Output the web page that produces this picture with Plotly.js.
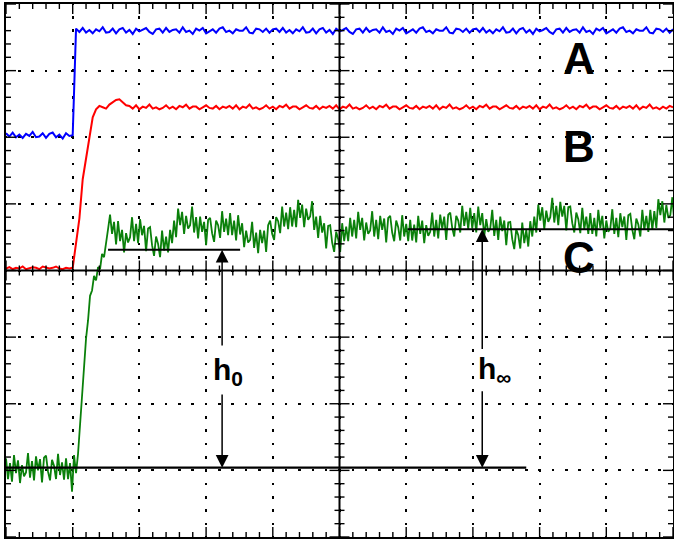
<!DOCTYPE html>
<html>
<head>
<meta charset="utf-8">
<script src="https://cdn.plot.ly/plotly-3.0.1.min.js"></script>
<style>
html,body{margin:0;padding:0;background:#fff;}
#chart{width:674px;height:542px;}
</style>
</head>
<body>
<div id="chart"></div>
<script>
// ---- data (screen divisions: x 0..10, y 0..8) ----
const stepAB = 0.05;   // sample interval of traces A and B (div)
const stepC = 0.03;    // sample interval of trace C (div)

const blueY = [
6.06,6.01,6.07,6.00,6.04,5.99,6.05,6.02,6.08,6.00,
6.01,6.06,5.99,6.05,6.07,6.00,6.04,5.98,6.06,6.02,
6.03,
7.63,7.58,7.64,7.57,7.61,7.56,7.62,7.59,7.65,7.57,
7.58,7.63,7.56,7.62,7.64,7.57,7.61,7.55,7.63,7.59,
7.61,7.64,7.58,7.55,7.62,7.63,7.57,7.64,7.58,7.61,
7.62,7.57,7.65,7.58,7.60,7.55,7.63,7.60,7.64,7.56,
7.59,7.62,7.57,7.63,7.65,7.58,7.60,7.56,7.62,7.60,
7.60,7.65,7.57,7.56,7.63,7.62,7.58,7.63,7.57,7.62,
7.63,7.58,7.64,7.57,7.61,7.56,7.62,7.59,7.65,7.57,
7.58,7.63,7.56,7.62,7.64,7.57,7.61,7.55,7.63,7.59,
7.61,7.64,7.58,7.55,7.62,7.63,7.57,7.64,7.58,7.61,
7.62,7.57,7.65,7.58,7.60,7.55,7.63,7.60,7.64,7.56,
7.59,7.62,7.57,7.63,7.65,7.58,7.60,7.56,7.62,7.60,
7.60,7.65,7.57,7.56,7.63,7.62,7.58,7.63,7.57,7.62,
7.63,7.58,7.64,7.57,7.61,7.56,7.62,7.59,7.65,7.57,
7.58,7.63,7.56,7.62,7.64,7.57,7.61,7.55,7.63,7.59,
7.61,7.64,7.58,7.55,7.62,7.63,7.57,7.64,7.58,7.61,
7.62,7.57,7.65,7.58,7.60,7.55,7.63,7.60,7.64,7.56,
7.59,7.62,7.57,7.63,7.65,7.58,7.60,7.56,7.62,7.60,
7.60,7.65,7.57,7.56,7.63,7.62,7.58,7.63,7.57,7.62
];

const redY = [
4.03,4.05,4.02,4.04,4.03,4.06,4.02,4.03,4.05,4.04,
4.02,4.06,4.05,4.03,4.04,4.06,4.03,4.02,4.04,4.03,
4.04,4.40,4.78,5.37,5.68,6.00,6.30,6.42,6.47,6.45,
6.43,6.49,6.53,6.56,6.57,6.53,6.48,
6.47,6.43,6.48,6.42,6.46,6.44,6.49,6.43,6.45,6.42,
6.44,6.48,6.43,6.46,6.42,6.47,6.45,6.49,6.43,6.46,
6.46,6.42,6.45,6.48,6.44,6.43,6.47,6.42,6.46,6.44,
6.47,6.43,6.48,6.42,6.46,6.44,6.49,6.43,6.45,6.42,
6.44,6.48,6.43,6.46,6.42,6.47,6.45,6.49,6.43,6.46,
6.46,6.42,6.45,6.48,6.44,6.43,6.47,6.42,6.46,6.44,
6.47,6.43,6.48,6.42,6.46,6.44,6.49,6.43,6.45,6.42,
6.44,6.48,6.43,6.46,6.42,6.47,6.45,6.49,6.43,6.46,
6.46,6.42,6.45,6.48,6.44,6.43,6.47,6.42,6.46,6.44,
6.47,6.43,6.48,6.42,6.46,6.44,6.49,6.43,6.45,6.42,
6.44,6.48,6.43,6.46,6.42,6.47,6.45,6.49,6.43,6.46,
6.46,6.42,6.45,6.48,6.44,6.43,6.47,6.42,6.46,6.44,
6.47,6.43,6.48,6.42,6.46,6.44,6.49,6.43,6.45,6.42,
6.44,6.48,6.43,6.46,6.42,6.47,6.45,6.49,6.43,6.46,
6.46,6.42,6.45,6.48,6.44,6.43,6.47,6.42,6.46,6.44,
6.47,6.43,6.48,6.42,6.46,6.44,6.49,6.43,6.45,6.42,
6.46,6.43,6.47,6.45
];

const greenY = [
1.18,0.87,1.11,0.83,1.23,0.96,1.15,0.81,1.08,0.91,
0.97,1.26,0.89,1.14,0.85,1.21,1.00,1.17,0.82,1.19,
1.22,0.98,0.85,1.16,1.07,0.87,1.25,0.93,1.12,0.86,
1.18,0.87,1.11,0.68,1.23,0.96,
1.25,1.70,2.10,2.45,2.98,3.25,3.62,3.70,3.92,3.85,4.05,4.02,4.25,4.20,4.45,4.62,
4.84,4.55,4.73,4.39,4.74,4.44,4.61,4.27,4.56,4.42,
4.50,4.80,4.44,4.70,4.41,4.77,4.53,4.67,4.29,4.63,
4.65,4.38,4.22,4.51,4.40,4.20,4.60,4.30,4.51,4.27,
4.61,4.41,4.75,4.50,4.93,4.68,4.88,4.55,4.82,4.63,
4.68,4.96,4.57,4.80,4.48,4.81,4.58,4.73,4.38,4.76,
4.79,4.56,4.43,4.75,4.68,4.49,4.89,4.58,4.78,4.53,
4.86,4.53,4.75,4.45,4.83,4.54,4.71,4.35,4.60,4.42,
4.46,4.73,4.34,4.57,4.26,4.61,4.41,4.60,4.28,4.68,
4.75,4.55,4.46,4.80,4.74,4.56,4.96,4.66,4.87,4.62,
4.95,4.66,4.91,4.65,5.06,4.79,4.99,4.65,4.93,4.76,
4.81,5.04,4.61,4.81,4.49,4.82,4.57,4.71,4.33,4.67,
4.68,4.42,4.28,4.58,4.47,4.28,4.71,4.44,4.66,4.44,
4.79,4.51,4.76,4.48,4.88,4.61,4.79,4.45,4.72,4.55,
4.60,4.89,4.51,4.76,4.47,4.82,4.61,4.78,4.42,4.79,
4.82,4.57,4.44,4.75,4.65,4.45,4.83,4.51,4.70,4.44,
4.76,4.45,4.69,4.42,4.82,4.55,4.75,4.41,4.68,4.52,
4.58,4.87,4.51,4.76,4.48,4.84,4.63,4.81,4.46,4.84,
4.87,4.64,4.51,4.82,4.75,4.57,4.97,4.67,4.88,4.62,
4.94,4.63,4.86,4.57,4.96,4.68,4.86,4.51,4.77,4.58,
4.63,4.91,4.52,4.76,4.46,4.81,4.59,4.75,4.38,4.72,
4.73,4.47,4.32,4.62,4.53,4.33,4.72,4.41,4.61,4.36,
4.74,4.51,4.81,4.57,4.99,4.75,4.95,4.62,4.90,4.73,
4.80,5.09,4.72,4.97,4.68,5.03,4.81,4.97,4.60,4.95,
4.96,4.71,4.57,4.87,4.77,4.56,4.94,4.62,4.81,4.55,
4.86,4.55,4.79,4.51,4.91,4.64,4.82,4.48,4.75,4.58,
4.63,4.92,4.55,4.79,4.50,4.86,4.65,4.81,4.46,4.83,
4.85,4.61,4.47,4.78,4.69,4.51,4.91,4.61,4.82,4.58,
4.91,4.61,4.89,4.64,5.07,4.83,5.04,4.72,4.98,4.79,
4.83,5.10,4.72
];

// reference levels (horizontal black lines)
const baseLineX = [0, 7.80];
const baseLineY = [1.04, 1.04];
const h0LineX = [1.53, 3.51];
const h0LineY = [4.31, 4.31];
const hInfLineX = [6.02, 10];
const hInfLineY = [4.62, 4.62];

// text labels
const curveLabels = ['A', 'B', 'C'];
const curveLabelX = [8.59, 8.59, 8.59];
const curveLabelY = [7.18, 5.86, 4.19];
const heightLabels = ['h<sub>0</sub>', 'h<sub>∞</sub>'];
const heightLabelX = [3.33, 7.33];
const heightLabelY = [2.48, 2.50];

// arrows (head / tail)
const arrowX = [3.24, 3.24, 7.14, 7.14];
const arrowHeadY = [4.31, 1.04, 4.62, 1.04];
const arrowTailY = [2.85, 2.16, 2.80, 2.21];

// screen graticule
const xDivs = 10, yDivs = 8, subDivs = 5;

// ---- traces ----
const traces = [
  {type:'scatter', mode:'lines', x0:0, dx:stepAB, y:blueY,
   line:{color:'#0000ff', width:2}, hoverinfo:'skip', showlegend:false},
  {type:'scatter', mode:'lines', x0:0, dx:stepAB, y:redY,
   line:{color:'#ff0000', width:2}, hoverinfo:'skip', showlegend:false},
  {type:'scatter', mode:'lines', x0:0, dx:stepC, y:greenY,
   line:{color:'#0a800a', width:1.8}, hoverinfo:'skip', showlegend:false},
  {type:'scatter', mode:'lines', x:baseLineX, y:baseLineY,
   line:{color:'#000', width:2.2}, hoverinfo:'skip', showlegend:false},
  {type:'scatter', mode:'lines', x:h0LineX, y:h0LineY,
   line:{color:'#000', width:2}, hoverinfo:'skip', showlegend:false},
  {type:'scatter', mode:'lines', x:hInfLineX, y:hInfLineY,
   line:{color:'#000', width:2}, hoverinfo:'skip', showlegend:false}
];

// ---- layout ----
const black = '#000';
function mainAxis(range, dash) {
  return {range:range, dtick:1, ticks:'', 
    showline:true, linewidth:2, linecolor:black, mirror:true,
    showgrid:true, gridcolor:black, gridwidth:2.4, griddash:dash,
    zeroline:false, showticklabels:false};
}

// graticule: centre cross-hair lines and tick marks (border + centre), as layout shapes
const shapes = [];
const tickLine = {color:black, width:1.4};
shapes.push({type:'line', xref:'paper', yref:'paper', x0:0.5, x1:0.5, y0:0, y1:1, line:{color:black, width:2}});
shapes.push({type:'line', xref:'paper', yref:'paper', x0:0, x1:1, y0:0.5, y1:0.5, line:{color:black, width:2}});
for (let k = 0; k <= xDivs * subDivs; k++) {
  const xv = k / subDivs;
  const len = (k % subDivs === 0) ? 10 : 5;
  const base = {type:'line', xref:'x', yref:'paper', x0:xv, x1:xv, ysizemode:'pixel', line:tickLine};
  shapes.push(Object.assign({}, base, {yanchor:0, y0:0, y1:len}));
  shapes.push(Object.assign({}, base, {yanchor:1, y0:-len, y1:0}));
  shapes.push(Object.assign({}, base, {yanchor:0.5, y0:-len, y1:len}));
}
for (let k = 0; k <= yDivs * subDivs; k++) {
  const yv = k / subDivs;
  const len = (k % subDivs === 0) ? 10 : 5;
  const base = {type:'line', xref:'paper', yref:'y', y0:yv, y1:yv, xsizemode:'pixel', line:tickLine};
  shapes.push(Object.assign({}, base, {xanchor:0, x0:0, x1:len}));
  shapes.push(Object.assign({}, base, {xanchor:1, x0:-len, x1:0}));
  shapes.push(Object.assign({}, base, {xanchor:0.5, x0:-len, x1:len}));
}

const annotations = [];
const labelFont = {family:'Liberation Sans, Arial, sans-serif', size:44, color:black};
for (let i = 0; i < curveLabels.length; i++) {
  annotations.push({xref:'x', yref:'y', x:curveLabelX[i], y:curveLabelY[i],
    text:'<b>' + curveLabels[i] + '</b>', showarrow:false, font:labelFont});
}
for (let i = 0; i < heightLabels.length; i++) {
  annotations.push({xref:'x', yref:'y', x:heightLabelX[i], y:heightLabelY[i],
    text:'<b>' + heightLabels[i] + '</b>', showarrow:false,
    font:{family:'Liberation Sans, Arial, sans-serif', size:30, color:black}});
}
for (let i = 0; i < arrowX.length; i++) {
  annotations.push({xref:'x', yref:'y', axref:'x', ayref:'y',
    x:arrowX[i], y:arrowHeadY[i], ax:arrowX[i], ay:arrowTailY[i],
    text:'', showarrow:true, arrowhead:2, arrowsize:1.7, arrowwidth:1.5, arrowcolor:black, standoff:0});
}

const layout = {
  width:674, height:542,
  margin:{l:6, r:1, t:4, b:5, pad:0},
  paper_bgcolor:'#fff', plot_bgcolor:'#fff',
  showlegend:false,
  xaxis: mainAxis([0, xDivs], '1.3px,10.73px,1.3px,0px'),
  yaxis: mainAxis([0, yDivs], '1.3px,10.74px,1.3px,0px'),
  shapes: shapes,
  annotations: annotations
};

Plotly.newPlot('chart', traces, layout, {displayModeBar:false});
</script>
</body>
</html>
